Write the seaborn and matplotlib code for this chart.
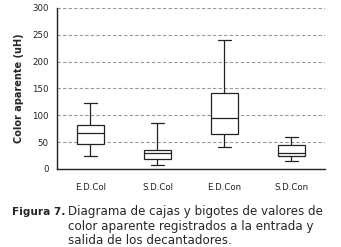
import matplotlib
matplotlib.use("Agg")
import matplotlib.pyplot as plt
import seaborn as sns
import pandas as pd

# five-number summaries: min, Q1, median, Q3, max
categories = ["E.D.Col", "S.D.Col", "E.D.Con", "S.D.Con"]
low = [25, 7, 41, 15]
q1 = [46, 19, 66, 24]
median = [67, 30, 95, 30]
q3 = [82, 35, 141, 45]
high = [122, 85, 240, 60]

rows = []
for i, cat in enumerate(categories):
    for v in (low[i], q1[i], median[i], q3[i], high[i]):
        rows.append({"Grupo": cat, "Color": v})
df = pd.DataFrame(rows)

sns.set_style("white")
plt.rcParams["font.family"] = ["DejaVu Sans"]

fig = plt.figure(figsize=(3.41, 2.47), dpi=100)
ax = fig.add_axes([0.167, 0.316, 0.786, 0.652])

ax.yaxis.grid(True, linestyle=(0, (3, 2)), color="#999999", linewidth=0.8)
ax.set_axisbelow(True)

sns.boxplot(data=df, x="Grupo", y="Color", whis=(0, 100), width=0.4,
            color="white", linecolor="#222222", linewidth=0.9,
            showcaps=True, ax=ax)

ax.set_ylim(0, 300)
ax.set_xlim(-0.5, 3.5)
ax.set_yticks(range(0, 301, 50))
ax.set_xlabel("")
ax.set_ylabel("Color aparente (uH)", fontsize=7, fontweight="bold", labelpad=6)
ax.tick_params(axis="x", labelsize=6.2, colors="#222222", length=0, pad=10)
ax.tick_params(axis="y", labelsize=6.2, colors="#222222", length=3, direction="out", pad=3)

# category boundary ticks on the x axis
ax.set_xticks([-0.5, 0.5, 1.5, 2.5, 3.5], minor=True)
ax.tick_params(axis="x", which="minor", length=4, direction="out", color="#222222")

for s in ["top", "right"]:
    ax.spines[s].set_visible(False)
for s in ["left", "bottom"]:
    ax.spines[s].set_color("#222222")
    ax.spines[s].set_linewidth(1.0)

fig.text(0.035, 0.13, "Figura 7.", fontsize=7.6, fontweight="bold", va="baseline")
fig.text(0.2, 0.13, "Diagrama de cajas y bigotes de valores de", fontsize=8.6, va="baseline")
fig.text(0.2, 0.07, "color aparente registrados a la entrada y", fontsize=8.6, va="baseline")
fig.text(0.2, 0.012, "salida de los decantadores.", fontsize=8.6, va="baseline")

fig.savefig("out.png", dpi=100)
